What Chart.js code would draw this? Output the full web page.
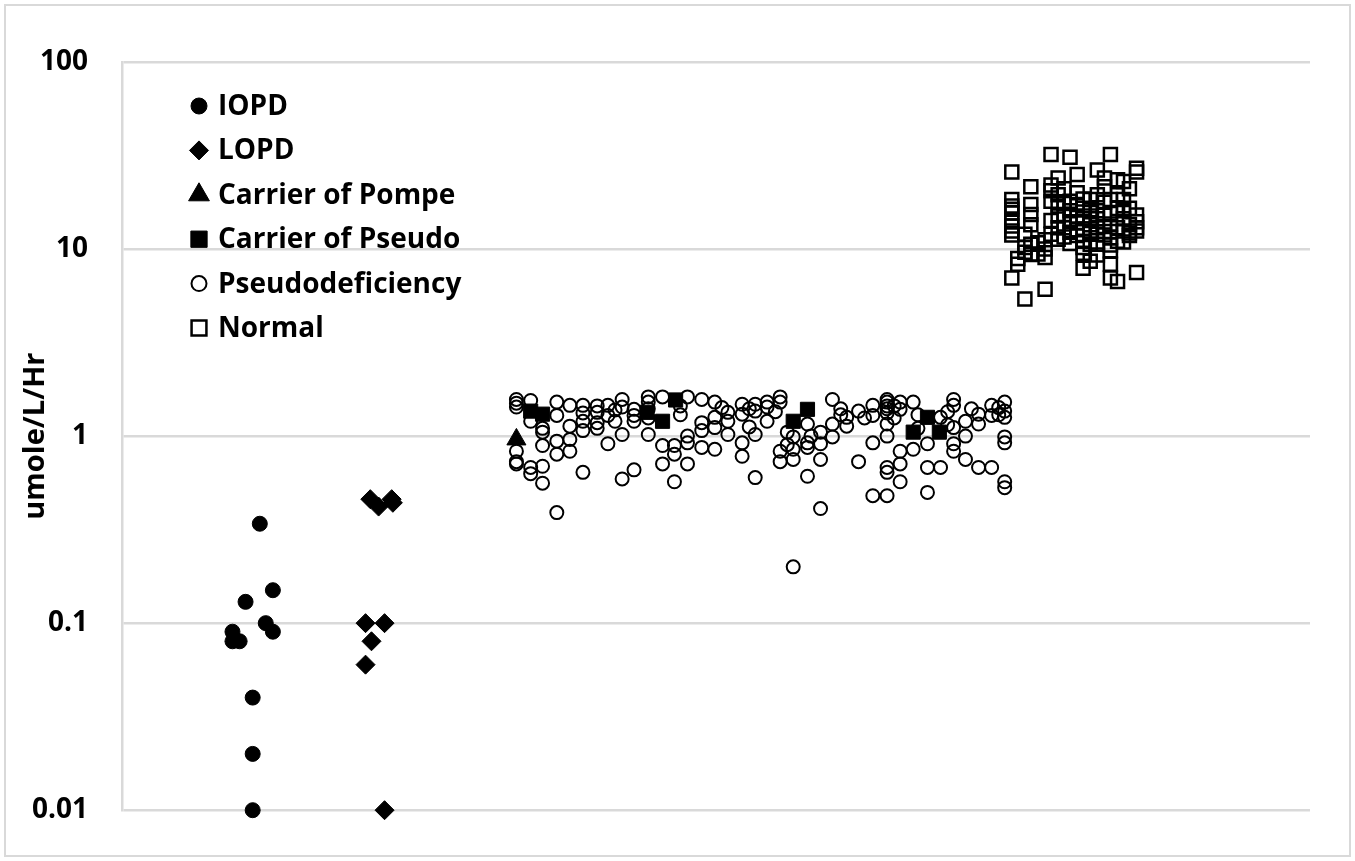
<!DOCTYPE html>
<html>
<head>
<meta charset="utf-8">
<title>umole/L/Hr scatter</title>
<script src="https://cdn.jsdelivr.net/npm/chart.js@4"></script>
<style>
  html, body { margin: 0; padding: 0; background: #fff; }
  #wrap { width: 1355px; height: 861px; position: relative; }
</style>
</head>
<body>
<div id="wrap"><canvas id="myChart" width="1355" height="861"></canvas></div>
<script>
// y axis
const yTickValues = [0.01, 0.1, 1, 10, 100];
const yTickLabels = ['0.01', '0.1', '1', '10', '100'];
const yTitle = 'umole/L/Hr';

// series labels
const seriesNames = ['IOPD', 'LOPD', 'Carrier of Pompe', 'Carrier of Pseudo', 'Pseudodeficiency', 'Normal'];

// IOPD
const iopdX = [11.6, 10.4, 12.7, 12.1, 12.7, 9.3, 9.3, 9.9, 11.0, 11.0, 11.0];
const iopdY = [0.34, 0.13, 0.15, 0.10, 0.09, 0.09, 0.08, 0.08, 0.04, 0.02, 0.01];

// LOPD
const lopdX = [20.9, 21.6, 22.7, 22.8, 20.5, 22.1, 21.0, 20.5, 22.1];
const lopdY = [0.46, 0.42, 0.46, 0.44, 0.10, 0.10, 0.08, 0.06, 0.01];

// Carrier of Pompe
const pompeX = [33.2];
const pompeY = [0.96];

// Carrier of Pseudo
const carrierX = [34.4, 35.4, 44.2, 45.5, 46.6, 56.5, 57.7, 66.6, 67.8, 68.8];
const carrierY = [1.36, 1.31, 1.34, 1.20, 1.56, 1.20, 1.39, 1.05, 1.26, 1.05];

// Pseudodeficiency
const pseudoX = [
  33.2, 33.2, 33.2, 33.2, 33.2, 33.2,
  34.4, 34.4, 34.4, 34.4,
  35.4, 35.4, 35.4, 35.4, 35.4,
  36.6, 36.6, 36.6, 36.6, 36.6,
  37.7, 37.7, 37.7, 37.7,
  38.8, 38.8, 38.8, 38.8, 38.8,
  40.0, 40.0, 40.0, 40.0,
  40.9, 40.9, 40.9,
  41.5, 41.5,
  42.1, 42.1, 42.1, 42.1,
  43.1, 43.1, 43.1, 43.1,
  44.3, 44.3, 44.3, 44.3, 44.3,
  45.5, 45.5, 45.5,
  46.5, 46.5, 46.5,
  47.0, 47.0,
  47.6, 47.6, 47.6, 47.6,
  48.8, 48.8, 48.8, 48.8,
  49.9, 49.9, 49.9, 49.9,
  50.5,
  51.0, 51.0, 51.0,
  52.2, 52.2, 52.2, 52.2,
  52.8, 52.8,
  53.3, 53.3, 53.3, 53.3,
  54.3, 54.3, 54.3,
  55.0,
  55.4, 55.4, 55.4, 55.4,
  56.0, 56.0,
  56.5, 56.5, 56.5, 56.5,
  57.7, 57.7, 57.7, 57.7,
  58.0,
  58.8, 58.8, 58.8, 58.8,
  59.8, 59.8, 59.8,
  60.5, 60.5,
  61.0, 61.0,
  62.0, 62.0,
  62.5,
  63.2, 63.2, 63.2, 63.2,
  64.4, 64.4, 64.4, 64.4, 64.4, 64.4, 64.4, 64.4, 64.4, 64.4,
  65.0, 65.0,
  65.5, 65.5, 65.5, 65.5, 65.5,
  66.6, 66.6,
  67.0, 67.0,
  67.8, 67.8, 67.8,
  68.9, 68.9,
  69.5, 69.5,
  70.0, 70.0, 70.0, 70.0, 70.0,
  71.0, 71.0, 71.0,
  71.5,
  72.1, 72.1, 72.1,
  73.2, 73.2, 73.2,
  73.8, 73.8,
  74.3, 74.3, 74.3, 74.3, 74.3, 74.3, 74.3
];
const pseudoY = [
  1.57, 1.50, 1.43, 0.83, 0.73, 0.71,
  1.55, 1.20, 0.68, 0.63,
  1.10, 1.05, 0.89, 0.69, 0.56,
  1.52, 1.29, 0.94, 0.80, 0.39,
  1.46, 1.13, 0.96, 0.83,
  1.46, 1.33, 1.20, 1.07, 0.64,
  1.45, 1.34, 1.18, 1.10,
  1.46, 1.29, 0.91,
  1.38, 1.20,
  1.57, 1.43, 1.02, 0.59,
  1.39, 1.29, 1.20, 0.66,
  1.62, 1.52, 1.40, 1.25, 1.02,
  1.62, 0.89, 0.71,
  0.89, 0.80, 0.57,
  1.45, 1.30,
  1.62, 1.00, 0.92, 0.71,
  1.57, 1.18, 1.07, 0.87,
  1.52, 1.26, 1.11, 0.85,
  1.42,
  1.34, 1.20, 1.02,
  1.48, 1.31, 0.92, 0.78,
  1.40, 1.12,
  1.48, 1.36, 1.02, 0.60,
  1.52, 1.43, 1.20,
  1.35,
  1.62, 1.52, 0.83, 0.73,
  1.05, 0.90,
  0.99, 0.85, 0.75, 0.20,
  1.16, 0.92, 0.87, 0.61,
  1.00,
  1.05, 0.91, 0.75, 0.41,
  1.57, 1.16, 0.99,
  1.40, 1.30,
  1.26, 1.13,
  1.36, 0.73,
  1.25,
  1.46, 1.29, 0.92, 0.48,
  1.57, 1.52, 1.45, 1.40, 1.33, 1.16, 1.00, 0.68, 0.64, 0.48,
  1.45, 1.25,
  1.52, 1.39, 0.83, 0.71, 0.57,
  1.52, 0.85,
  1.30, 1.10,
  0.91, 0.68, 0.50,
  1.26, 0.68,
  1.35, 1.15,
  1.57, 1.46, 1.11, 0.91, 0.83,
  1.20, 1.00, 0.75,
  1.40,
  1.31, 1.16, 0.68,
  1.46, 1.29, 0.68,
  1.42, 1.30,
  1.52, 1.36, 1.26, 0.99, 0.92, 0.57, 0.53
];

// Normal
const normalX = [
  74.9, 74.9, 74.9, 74.9, 74.9, 74.9, 74.9, 74.9, 74.9, 74.9,
  75.4, 75.4,
  76.0, 76.0, 76.0, 76.0,
  76.5, 76.5, 76.5, 76.5, 76.5, 76.5,
  77.1, 77.1,
  77.7, 77.7, 77.7, 77.7,
  78.2, 78.2, 78.2, 78.2, 78.2, 78.2,
  78.8, 78.8, 78.8, 78.8, 78.8, 78.8,
  79.3, 79.3, 79.3, 79.3, 79.3,
  79.8, 79.8, 79.8, 79.8, 79.8, 79.8,
  80.4, 80.4, 80.4, 80.4, 80.4, 80.4, 80.4,
  80.9, 80.9, 80.9, 80.9, 80.9, 80.9, 80.9, 80.9,
  81.5, 81.5, 81.5, 81.5, 81.5, 81.5, 81.5,
  82.1, 82.1, 82.1, 82.1, 82.1, 82.1, 82.1, 82.1,
  82.7, 82.7, 82.7, 82.7, 82.7, 82.7,
  83.2, 83.2, 83.2, 83.2, 83.2, 83.2, 83.2, 83.2, 83.2, 83.2,
  83.8, 83.8, 83.8, 83.8, 83.8, 83.8,
  84.3, 84.3, 84.3, 84.3, 84.3, 84.3,
  84.8, 84.8, 84.8, 84.8, 84.8,
  85.4, 85.4, 85.4, 85.4, 85.4, 85.4, 85.4
];
const normalY = [
  25.8, 18.4, 17.0, 16.3, 15.6, 14.2, 13.3, 12.5, 11.9, 7.0,
  8.9, 8.3,
  12.0, 10.2, 9.6, 5.4,
  21.5, 17.3, 15.3, 13.5, 10.6, 9.35,
  10.8, 9.4,
  11.2, 10.0, 9.0, 6.1,
  32.0, 22.0, 20.5, 18.0, 14.2, 12.0,
  24.0, 19.5, 17.0, 15.0, 13.0, 11.3,
  21.0, 17.5, 15.3, 13.0, 11.6,
  31.0, 18.0, 16.0, 14.0, 12.3, 10.7,
  25.0, 20.0, 17.3, 15.0, 13.8, 12.7, 11.8,
  18.5, 16.5, 14.5, 12.8, 11.0, 10.2, 9.5, 7.9,
  18.4, 16.2, 15.0, 13.5, 12.1, 10.6, 8.6,
  26.5, 19.5, 16.0, 14.5, 13.0, 12.0, 10.6, 9.3,
  24.0, 21.5, 17.8, 15.3, 13.2, 11.9,
  32.0, 18.4, 15.5, 13.6, 12.4, 11.5, 10.5, 9.8, 8.3, 7.0,
  23.5, 19.5, 16.5, 13.0, 11.0, 6.7,
  23.0, 18.4, 16.0, 14.5, 12.5, 10.9,
  21.0, 16.5, 13.5, 12.2, 11.8,
  27.0, 25.8, 15.2, 14.0, 13.0, 12.5, 7.5
];

function pts(xs, ys) {
  return xs.map((x, i) => ({ x: x, y: ys[i] }));
}

const styles = [
  { pointStyle: 'circle', radius: 7.5, fill: '#000', border: 1, lr: 8 },
  { pointStyle: 'rectRot', radius: 9.5, fill: '#000', border: 1, lr: 9.5 },
  { pointStyle: 'triangle', radius: 11, fill: '#000', border: 1, lr: 12 },
  { pointStyle: 'rect', radius: 10, fill: '#000', border: 1, lr: 11.5 },
  { pointStyle: 'circle', radius: 6.5, fill: 'rgba(0,0,0,0)', border: 2, lr: 7.5 },
  { pointStyle: 'rect', radius: 9.2, fill: 'rgba(0,0,0,0)', border: 2.5, lr: 10.5 }
];

const seriesData = [
  pts(iopdX, iopdY), pts(lopdX, lopdY), pts(pompeX, pompeY),
  pts(carrierX, carrierY), pts(pseudoX, pseudoY), pts(normalX, normalY)
];

const datasets = seriesNames.map((name, i) => ({
  label: name,
  data: seriesData[i],
  pointStyle: styles[i].pointStyle,
  pointRadius: styles[i].radius,
  pointHoverRadius: styles[i].radius,
  backgroundColor: styles[i].fill,
  borderColor: '#000',
  borderWidth: styles[i].border,
  clip: false
}));
// keep the black squares on top of the open circles
datasets[3].order = -1;

const fontFamily = '"Open Sans", Lato, sans-serif';

// outer frame
const framePlugin = {
  id: 'frame',
  beforeDraw(chart) {
    const ctx = chart.ctx;
    ctx.save();
    ctx.fillStyle = '#fff';
    ctx.fillRect(0, 0, chart.width, chart.height);
    ctx.strokeStyle = '#d9d9d9';
    ctx.lineWidth = 2;
    ctx.strokeRect(5, 5, chart.width - 10, chart.height - 10);
    ctx.restore();
  }
};

// legend inside the plot, top left, one entry per row
const legendPlugin = {
  id: 'insideLegend',
  afterDraw(chart) {
    const ctx = chart.ctx;
    const x0 = chart.chartArea.left + 77;
    const y0 = chart.chartArea.top + 44;
    const step = 44.4;
    ctx.save();
    ctx.font = 'bold 28px ' + fontFamily;
    ctx.textBaseline = 'middle';
    ctx.textAlign = 'left';
    seriesNames.forEach((name, i) => {
      const y = y0 + i * step;
      ctx.fillStyle = styles[i].fill;
      ctx.strokeStyle = '#000';
      ctx.lineWidth = styles[i].border;
      Chart.helpers.drawPoint(ctx, {
        pointStyle: styles[i].pointStyle,
        radius: styles[i].lr,
        rotation: 0,
        borderWidth: styles[i].border
      }, x0, y);
      ctx.fillStyle = '#000';
      ctx.fillText(name, x0 + 19, y + 1);
    });
    ctx.restore();
  }
};

const config = {
  type: 'scatter',
  data: { datasets: datasets },
  options: {
    responsive: false,
    animation: false,
    layout: { padding: { top: 62, right: 45, bottom: 49, left: 0 } },
    plugins: {
      legend: { display: false },
      tooltip: { enabled: false }
    },
    scales: {
      x: {
        type: 'linear',
        min: 0,
        max: 100,
        display: false
      },
      y: {
        type: 'logarithmic',
        min: 0.01,
        max: 100,
        afterBuildTicks(scale) {
          scale.ticks = yTickValues.map(v => ({ value: v }));
        },
        afterFit(scale) {
          scale.width = 122;
        },
        ticks: {
          padding: 34,
          color: '#000',
          font: { family: fontFamily, size: 28, weight: 'bold' },
          callback(value) {
            const i = yTickValues.indexOf(value);
            return i >= 0 ? yTickLabels[i] : '';
          }
        },
        grid: {
          color: '#d9d9d9',
          lineWidth: 2.5,
          drawTicks: false
        },
        border: { display: true, color: '#d9d9d9', width: 2.5 },
        title: {
          display: true,
          text: yTitle,
          color: '#000',
          font: { family: fontFamily, size: 29, weight: 'bold' },
          lineHeight: 1.2,
          padding: { top: 18, bottom: 0 }
        }
      }
    }
  },
  plugins: [framePlugin, legendPlugin]
};

const myChart = new Chart(document.getElementById('myChart'), config);
</script>
</body>
</html>
